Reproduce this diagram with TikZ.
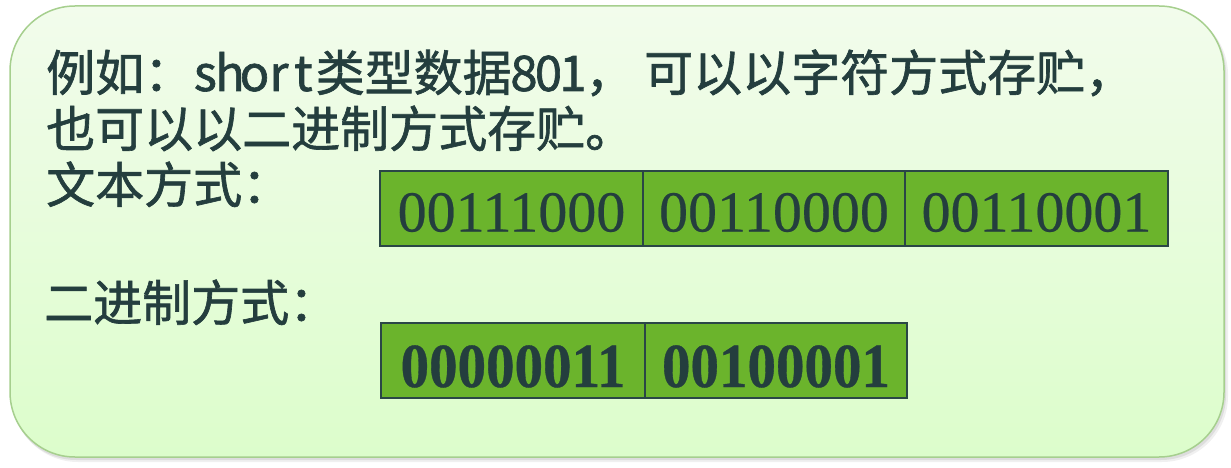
\documentclass[tikz,border=0pt]{standalone}
\usepackage{fontspec}
\usepackage{graphicx}
\setmainfont{Noto Sans CJK SC}[FakeBold=1.3]
\newfontfamily\tnr{Liberation Serif}[FakeBold=0.4]
\newfontfamily\tnrb{Liberation Serif}[FakeBold=0.6]
\definecolor{ink}{HTML}{243E3E}
\definecolor{cellfill}{HTML}{6BB42C}
\definecolor{cellline}{HTML}{2A4646}
\definecolor{panelline}{HTML}{A6CF8E}
\definecolor{paneltop}{HTML}{F2FCEC}
\definecolor{panelbot}{HTML}{DCFDCB}
\newcommand\halfw[1]{\makebox[0.5em]{#1}}
\begin{document}
\begin{tikzpicture}[x=1pt,y=-1pt,
  txt/.style={anchor=base west, inner sep=0pt, text=ink, font=\fontsize{49}{49}\selectfont},
  cell/.style={draw=cellline, line width=2pt, fill=cellfill, minimum width=263pt, minimum height=75pt,
    inner sep=0pt, outer sep=0pt, text=ink, font=\tnr\fontsize{58}{58}\selectfont,
    text height=46pt, text depth=0pt, anchor=north west},
  boldcell/.style={cell, font=\tnrb\bfseries\fontsize{57}{57}\selectfont, text height=53pt}]
\useasboundingbox (0,0) rectangle (1231,468);
% shadow
\fill[black, opacity=0.06, rounded corners=66pt] (12,9) rectangle (1228,462);
\fill[black, opacity=0.08, rounded corners=65pt] (11,8) rectangle (1226,460);
% panel
\draw[draw=panelline, line width=1.5pt, top color=paneltop, bottom color=panelbot, rounded corners=65pt]
  (10,6) rectangle (1224,457);
% text
\node[txt] (l1) at (46,91) {例如：\halfw{s}\halfw{h}\halfw{o}\halfw{r}\halfw{t}类型数据\halfw{8}\halfw{0}\halfw{1}，\hspace{10pt}可以以字符方式存贮，};
\node[txt] (l2) at (46,147) {也可以以二进制方式存贮。};
\node[txt] (l3) at (46,203) {文本方式：};
\node[txt] (l4) at (44,321) {二进制方式：};
% text-mode cells
\node[cell, minimum width=263pt] (t1) at (380,171) {00111000};
\node[cell, minimum width=262pt] (t2) at (t1.north east) {00110000};
\node[cell, minimum width=263pt] (t3) at (t2.north east) {00110001};
% binary-mode cells
\node[boldcell, minimum width=264pt] (b1) at (381,323) {\scalebox{1}[1.1]{00000011}};
\node[boldcell, minimum width=262pt] (b2) at (b1.north east) {\scalebox{1}[1.1]{00100001}};
\end{tikzpicture}
\end{document}
